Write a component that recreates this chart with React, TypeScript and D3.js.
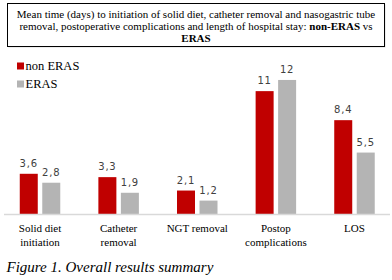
import React from "react";
import * as d3 from "d3";

const categories = [
  ["Solid diet", "initiation"],
  ["Catheter", "removal"],
  ["NGT removal"],
  ["Postop", "complications"],
  ["LOS"],
];
const nonEras = [3.6, 3.3, 2.1, 11, 8.4];
const eras = [2.8, 1.9, 1.2, 12, 5.5];
const nonErasLabels = ["3,6", "3,3", "2,1", "11", "8,4"];
const erasLabels = ["2,8", "1,9", "1,2", "12", "5,5"];
const seriesNames = ["non ERAS", "ERAS"];
const titleLines = [
  "Mean time (days) to initiation of solid diet, catheter removal and nasogastric tube",
  "removal, postoperative complications and length of hospital stay: ",
  "non-ERAS",
  " vs",
  "ERAS",
];
const caption = "Figure 1. Overall results summary";

const RED = "#c00000";
const GREY = "#b4b4b4";

export default function App() {
  const W = 392, H = 280;
  const baseY = 214;
  const x = d3
    .scaleBand<number>()
    .domain(categories.map((_, i) => i))
    .range([0.7, 393.8])
    .paddingInner(0)
    .paddingOuter(0);
  const y = d3.scaleLinear().domain([0, 14]).range([baseY, baseY - 14 * 11.17]);
  const bw = 18;
  const gap = 4.5;
  const serif = "Liberation Serif, Times New Roman, serif";
  const sans = "DejaVu Sans, sans-serif";

  return (
    <svg
      width={W}
      height={H}
      style={{ position: "absolute", left: 0, top: 0, background: "#fff" }}
    >
      <rect x={0} y={0} width={W} height={H} fill="#fff" />
      {/* Title box */}
      <rect x={8.5} y={4.5} width={377} height={43} fill="#888" opacity={0.3} />
      <rect x={7.5} y={3.5} width={377} height={43} fill="#fff" stroke="#000" strokeWidth={1} />
      <text style={{ fontFamily: serif }} fontSize={11} textAnchor="middle" fill="#000">
        <tspan x={196} y={18}>{titleLines[0]}</tspan>
        <tspan x={196} y={30}>
          {titleLines[1]}
          <tspan fontWeight="bold">{titleLines[2]}</tspan>
          {titleLines[3]}
        </tspan>
        <tspan x={196} y={42} fontWeight="bold">{titleLines[4]}</tspan>
      </text>

      {/* Legend */}
      {seriesNames.map((name, i) => (
        <g key={name}>
          <rect x={17} y={62.5 + i * 18} width={7} height={7} fill={i === 0 ? RED : GREY} />
          <text x={25.5} y={69.5 + i * 18} style={{ fontFamily: serif }} fontSize={12.5} fill="#000">
            {name}
          </text>
        </g>
      ))}

      {/* Bars */}
      {categories.map((_, i) => {
        const cx = (x(i) as number) + x.bandwidth() / 2;
        const x1 = cx - gap / 2 - bw;
        const x2 = cx + gap / 2;
        return (
          <g key={i}>
            <rect x={x1} y={y(nonEras[i])} width={bw} height={baseY - y(nonEras[i])} fill={RED} />
            <rect x={x2} y={y(eras[i])} width={bw} height={baseY - y(eras[i])} fill={GREY} />
            <text x={x1 + bw / 2} y={y(nonEras[i]) - 7} textAnchor="middle" style={{ fontFamily: sans, letterSpacing: "0.8px" }} fontSize={10} fill="#404040">
              {nonErasLabels[i]}
            </text>
            <text x={x2 + bw / 2} y={y(eras[i]) - 7} textAnchor="middle" style={{ fontFamily: sans, letterSpacing: "0.8px" }} fontSize={10} fill="#404040">
              {erasLabels[i]}
            </text>
          </g>
        );
      })}

      {/* Axis line */}
      <line x1={4} x2={390} y1={baseY + 0.5} y2={baseY + 0.5} stroke="#d9d9d9" strokeWidth={1.5} />

      {/* Category labels */}
      {categories.map((lines, i) => {
        const cx = (x(i) as number) + x.bandwidth() / 2;
        return (
          <text key={i} textAnchor="middle" style={{ fontFamily: serif }} fontSize={11} fill="#000">
            {lines.map((l, j) => (
              <tspan key={j} x={cx} y={232 + j * 13.5}>{l}</tspan>
            ))}
          </text>
        );
      })}

      {/* Caption */}
      <text x={6.5} y={271.5} style={{ fontFamily: serif }} fontStyle="italic" fontSize={15} fill="#000">
        {caption}
      </text>
    </svg>
  );
}
